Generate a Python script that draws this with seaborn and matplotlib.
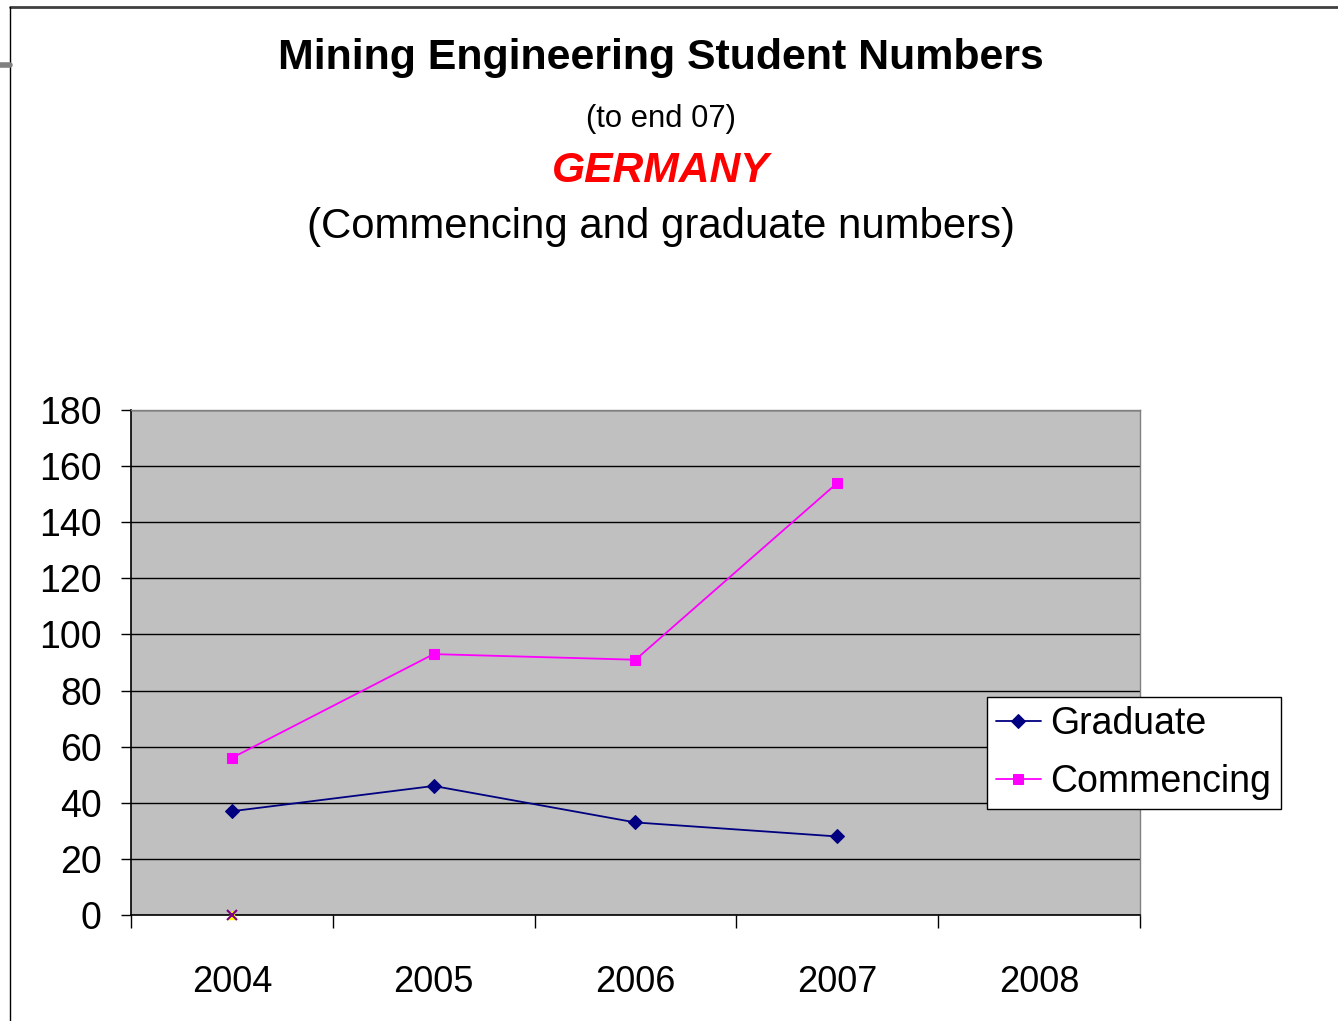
import numpy as np
import pandas as pd
import seaborn as sns
import matplotlib.pyplot as plt
from matplotlib.lines import Line2D

# Chart data
years = ['2004', '2005', '2006', '2007', '2008']
graduate = [37, 46, 33, 28, np.nan]
commencing = [56, 93, 91, 154, np.nan]
zero_series = [0, np.nan, np.nan, np.nan, np.nan]
y_ticks = [0, 20, 40, 60, 80, 100, 120, 140, 160, 180]

sns.set_style('white')
plt.rcParams['font.family'] = ['Liberation Sans', 'DejaVu Sans']
plt.rcParams['text.color'] = 'black'
plt.rcParams['xtick.color'] = 'black'
plt.rcParams['ytick.color'] = 'black'

pos = np.arange(len(years))
df = pd.DataFrame({'pos': pos, 'Graduate': graduate, 'Commencing': commencing,
                   'Zero': zero_series})

fig = plt.figure(figsize=(13.38, 10.21), dpi=100)
ax = fig.add_axes([0.0979, 0.1038, 0.7541, 0.4946])
ax.set_facecolor('#C0C0C0')

# Series lines
sns.lineplot(data=df, x='pos', y='Graduate', ax=ax, color='#000080', marker='D',
             markersize=7, markeredgecolor='#000080', linewidth=1.3, label='Graduate')
sns.lineplot(data=df, x='pos', y='Commencing', ax=ax, color='#FF00FF', marker='s',
             markersize=7, markeredgecolor='#FF00FF', linewidth=1.3, label='Commencing')
# tiny markers sitting on zero at 2004
ax.plot(df['pos'], df['Zero'], marker='^', color='#FFFF00', markersize=6,
        linestyle='none', clip_on=False, zorder=5)
ax.plot(df['pos'], df['Zero'], marker='x', color='#800080', markersize=7,
        markeredgewidth=1.5, linestyle='none', clip_on=False, zorder=6)

ax.set_xlim(-0.5, len(years) - 0.5)
ax.set_ylim(0, 180)
ax.set_yticks(y_ticks)
ax.set_yticklabels([str(t) for t in y_ticks], fontsize=27, color='black')
ax.set_xticks(pos)
ax.set_xticklabels(years, fontsize=26, color='black')
ax.set_xticks(np.arange(len(years) + 1) - 0.5, minor=True)
ax.tick_params(axis='x', which='major', length=0, pad=36, bottom=True)
ax.tick_params(axis='x', which='minor', length=9, width=1, color='black',
               direction='out', bottom=True)
ax.tick_params(axis='y', length=7, width=1, color='black', direction='out', pad=14, left=True)
ax.set_xlabel('')
ax.set_ylabel('')

ax.yaxis.grid(True, color='black', linewidth=1)
ax.set_axisbelow(True)
for side in ['top', 'right']:
    ax.spines[side].set_color('#808080')
    ax.spines[side].set_linewidth(1)
for side in ['left', 'bottom']:
    ax.spines[side].set_color('black')
    ax.spines[side].set_linewidth(1.2)

leg = ax.legend(loc='upper left', bbox_to_anchor=(0.848, 0.432), fontsize=27, frameon=True,
                fancybox=False, edgecolor='black', framealpha=1, handlelength=1.2,
                handletextpad=0.25, borderpad=0.25, labelspacing=0.58, borderaxespad=0)
leg.get_frame().set_linewidth(1)

# Titles
fig.text(0.4937, 0.943, 'Mining Engineering Student Numbers', ha='center', va='center',
         fontsize=30.9, fontweight='bold')
fig.text(0.4937, 0.883, '(to end 07)', ha='center', va='center', fontsize=22.3)
fig.text(0.4937, 0.833, 'GERMANY', ha='center', va='center', fontsize=30.7,
         fontweight='bold', style='italic', color='#FF0000')
fig.text(0.4937, 0.778, '(Commencing and graduate numbers)', ha='center', va='center',
         fontsize=30.2)

# Slide frame
fig.add_artist(Line2D([10 / 1338, 1.0], [1 - 7 / 1021, 1 - 7 / 1021], color='#404040',
                      linewidth=2, transform=fig.transFigure))
fig.add_artist(Line2D([10 / 1338, 10 / 1338], [0, 1 - 7 / 1021], color='black',
                      linewidth=1, transform=fig.transFigure))
fig.add_artist(Line2D([0, 10 / 1338], [1 - 65 / 1021, 1 - 65 / 1021], color='#808080',
                      linewidth=4, transform=fig.transFigure))

fig.savefig('out.png', dpi=100)
